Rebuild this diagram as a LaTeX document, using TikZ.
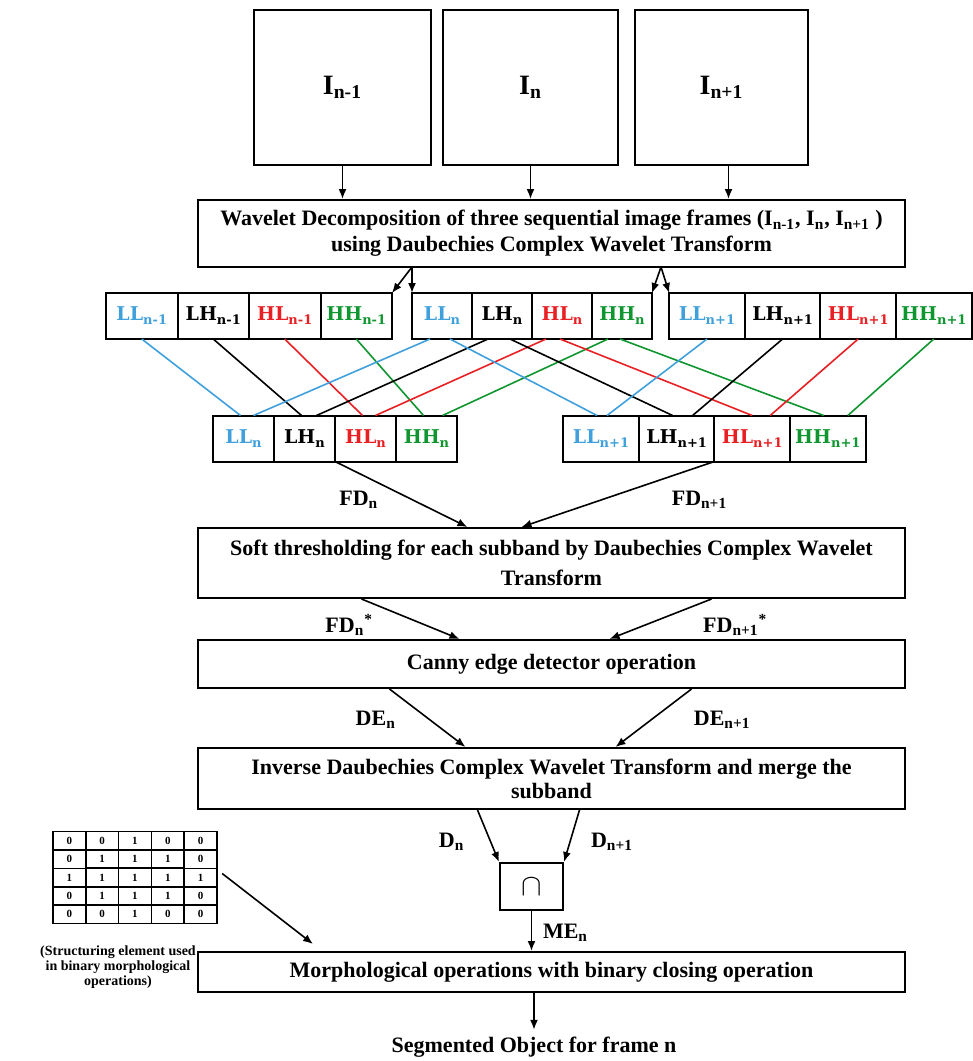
\documentclass[tikz,border=0pt]{standalone}
\usepackage{fontspec}
\setmainfont{Liberation Serif}
\newfontfamily\bandfont{DejaVu Serif}
\usepackage{graphicx}
\usetikzlibrary{arrows.meta,positioning,matrix}

\definecolor{llblue}{RGB}{64,160,220}
\definecolor{hlred}{RGB}{232,32,36}
\definecolor{hhgreen}{RGB}{16,150,48}
% small, low subscript for the subband cells
\newcommand{\bsub}[1]{\raisebox{-2pt}{\fontsize{6.5}{7}\selectfont #1}}

\begin{document}
\begin{tikzpicture}[x=0.5pt, y=-0.5pt,
    every node/.style={font=\bfseries\fontsize{11}{13}\selectfont},
    frame/.style={draw, line width=1pt, minimum height=77.5pt, inner sep=0pt,
                  font=\bfseries\fontsize{14}{16}\selectfont},
    stage/.style={draw, line width=1pt, minimum width=353.5pt, inner sep=2pt, align=center},
    band/.style={draw, line width=1pt, minimum width=#1, minimum height=23pt,
                 inner sep=0pt, outer sep=0pt, font=\bandfont\bfseries\fontsize{9.5}{11}\selectfont},
    e/.style={-{Latex[length=5pt,width=4pt]}, line width=0.8pt},
    ln/.style={line width=0.8pt},
    lbl/.style={inner sep=1pt},
  ]
  \useasboundingbox (0,0) rectangle (973,1061);

  % input frames
  \node[frame, minimum width=88.5pt] (img1) at (342.5,87.5) {I\textsubscript{n-1}};
  \node[frame, minimum width=87.5pt] (img2) at (530.5,87.5) {I\textsubscript{n}};
  \node[frame, minimum width=86.5pt] (img3) at (721.5,87.5) {\raisebox{-3pt}{I\textsubscript{n+1}}};

  % processing stages
  \node[stage, minimum height=33.5pt] (wav) at (551.5,233.5)
    {Wavelet Decomposition of three sequential image frames (I\textsubscript{n-1}, I\textsubscript{n}, I\textsubscript{n+1} )\\
     using Daubechies Complex Wavelet Transform};
  \node[stage, minimum height=35pt, font=\bfseries\fontsize{11}{15}\selectfont] (soft) at (551.5,563)
    {Soft thresholding for each subband by Daubechies Complex Wavelet\\ Transform};
  \node[stage, minimum height=24pt] (canny) at (551.5,664) {Canny edge detector operation};
  \node[stage, minimum height=30.5pt, font=\bfseries\fontsize{11}{12}\selectfont] (inv) at (551.5,778.5)
    {Inverse Daubechies Complex Wavelet Transform and merge the\\ subband};
  \node[draw, line width=1pt, minimum width=31.5pt, minimum height=23.5pt, inner sep=0pt] (cap)
    at (531.5,886.5) {\scalebox{1.4}{$\cap$}};
  \node[stage, minimum height=20pt] (morph) at (551.5,972)
    {Morphological operations with binary closing operation};
  \node (seg) at (534,1047) {Segmented Object for frame n};

  % subbands of the three frames
  \node[band=35.75pt, text=llblue] (a1) at (141.75,316) {LL\bsub{n-1}};
  \node[band=35.75pt, right=0pt of a1] (a2) {LH\bsub{n-1}};
  \node[band=35.75pt, text=hlred, right=0pt of a2] (a3) {HL\bsub{n-1}};
  \node[band=35.75pt, text=hhgreen, right=0pt of a3] (a4) {HH\bsub{n-1}};

  \node[band=30pt, text=llblue] (b1) at (442,316) {LL\bsub{n}};
  \node[band=30pt, right=0pt of b1] (b2) {LH\bsub{n}};
  \node[band=30pt, text=hlred, right=0pt of b2] (b3) {HL\bsub{n}};
  \node[band=30pt, text=hhgreen, right=0pt of b3] (b4) {HH\bsub{n}};

  \node[band=37.8pt, text=llblue] (c1) at (707,316) {LL\bsub{n+1}};
  \node[band=37.8pt, right=0pt of c1] (c2) {LH\bsub{n+1}};
  \node[band=37.8pt, text=hlred, right=0pt of c2] (c3) {HL\bsub{n+1}};
  \node[band=37.8pt, text=hhgreen, right=0pt of c3] (c4) {HH\bsub{n+1}};

  % frame differences
  \node[band=30.5pt, text=llblue] (d1) at (243.5,438.5) {LL\bsub{n}};
  \node[band=30.5pt, right=0pt of d1] (d2) {LH\bsub{n}};
  \node[band=30.5pt, text=hlred, right=0pt of d2] (d3) {HL\bsub{n}};
  \node[band=30.5pt, text=hhgreen, right=0pt of d3] (d4) {HH\bsub{n}};

  \node[band=37.8pt, text=llblue] (e1) at (601,438.5) {LL\bsub{n+1}};
  \node[band=37.8pt, right=0pt of e1] (e2) {LH\bsub{n+1}};
  \node[band=37.8pt, text=hlred, right=0pt of e2] (e3) {HL\bsub{n+1}};
  \node[band=37.8pt, text=hhgreen, right=0pt of e3] (e4) {HH\bsub{n+1}};

  % structuring element
  \matrix (se) [matrix of nodes, column sep=-0.8pt, row sep=-0.8pt, inner sep=0pt,
    nodes={draw, line width=0.8pt, minimum width=16.4pt, minimum height=9.2pt, inner sep=0pt,
           font=\bfseries\fontsize{5.5}{6}\selectfont}] at (135,877.5) {
    0 & 0 & 1 & 0 & 0 \\
    0 & 1 & 1 & 1 & 0 \\
    1 & 1 & 1 & 1 & 1 \\
    0 & 1 & 1 & 1 & 0 \\
    0 & 0 & 1 & 0 & 0 \\
  };
  \node[align=center, font=\bfseries\fontsize{7}{7.5}\selectfont] (secap) at (118,967)
    {(Structuring element used\\ in binary morphological\\ operations)};

  % frames into decomposition
  \coordinate (in3) at ([xshift=3.5pt]img3.south);
  \draw[e] (img1.south) -- (img1.south |- wav.north);
  \draw[e] (img2.south) -- (img2.south |- wav.north);
  \draw[e] (in3) -- (in3 |- wav.north);

  \coordinate (sl) at (412,267);
  \coordinate (sr) at (661,267);
  \draw[e] (sl) -- (a4.north east);
  \draw[e] (sl) -- (b1.north west);
  \draw[e] (sr) -- (b4.north east);
  \draw[e] (sr) -- (c1.north west);

  % n-1 and n
  \draw[ln, llblue] (a1.south) -- ([xshift=-1.5pt]d1.north);
  \draw[ln] (a2.south) -- ([xshift=-1.5pt]d2.north);
  \draw[ln, hlred] (a3.south) -- ([xshift=-1.5pt]d3.north);
  \draw[ln, hhgreen] (a4.south) -- ([xshift=-1.5pt]d4.north);
  \draw[ln, llblue] ([xshift=-6pt]b1.south) -- ([xshift=5pt]d1.north);
  \draw[ln] ([xshift=-7pt]b2.south) -- ([xshift=6pt]d2.north);
  \draw[ln, hlred] ([xshift=-8pt]b3.south) -- ([xshift=5pt]d3.north);
  \draw[ln, hhgreen] ([xshift=-7pt]b4.south) -- ([xshift=8pt]d4.north);
  % n and n+1
  \draw[ln, llblue] ([xshift=4pt]b1.south) -- ([xshift=-2pt]e1.north);
  \draw[ln] ([xshift=4pt]b2.south) -- ([xshift=-2pt]e2.north);
  \draw[ln, hlred] ([xshift=-1pt]b3.south) -- ([xshift=0pt]e3.north);
  \draw[ln, hhgreen] ([xshift=-1pt]b4.south) -- ([xshift=-2pt]e4.north);
  \draw[ln, llblue] (c1.south) -- ([xshift=3pt]e1.north);
  \draw[ln] (c2.south) -- ([xshift=8pt]e2.north);
  \draw[ln, hlred] (c3.south) -- ([xshift=9pt]e3.north);
  \draw[ln, hhgreen] (c4.south) -- ([xshift=10pt]e4.north);

  % pipeline
  \draw[e] (d3.south west) -- node[lbl, pos=0.58, xshift=-26.5pt] {FD\textsubscript{n}} ([xshift=-42pt]soft.north);
  \draw[e] (e3.south west) -- node[lbl, pos=0.58, xshift=48.5pt] {FD\textsubscript{n+1}} ([xshift=-15pt]soft.north);
  \draw[e] ([xshift=-95pt]soft.south) -- node[lbl, pos=0.64, xshift=-37.5pt] {FD\textsubscript{n}\textsuperscript{*}} ([xshift=-46pt]canny.north);
  \draw[e] ([xshift=80pt]soft.south) -- node[lbl, pos=0.64, xshift=44.5pt] {FD\textsubscript{n+1}\textsuperscript{*}} ([xshift=29pt]canny.north);
  \draw[e] ([xshift=-81pt]canny.south) -- node[lbl, pos=0.53, xshift=-27pt] {DE\textsubscript{n}} ([xshift=-43pt]inv.north);
  \draw[e] ([xshift=70pt]canny.south) -- node[lbl, pos=0.53, xshift=35.5pt] {DE\textsubscript{n+1}} ([xshift=32pt]inv.north);
  \draw[e] ([xshift=-37pt]inv.south) -- node[lbl, pos=0.61, xshift=-19.5pt] {D\textsubscript{n}} (cap.north west);
  \draw[e] ([xshift=14pt]inv.south) -- node[lbl, pos=0.61, xshift=21pt] {D\textsubscript{n+1}} (cap.north east);
  \draw[e] (cap.south) -- node[lbl, pos=0.55, xshift=17pt] {ME\textsubscript{n}} (cap.south |- morph.north);
  \draw[e] ([shift={(2pt,2pt)}]se.east) -- ([shift={(58pt,3.5pt)}]morph.north west);
  \draw[e] (seg.north |- morph.south) -- (seg.north);
\end{tikzpicture}
\end{document}
